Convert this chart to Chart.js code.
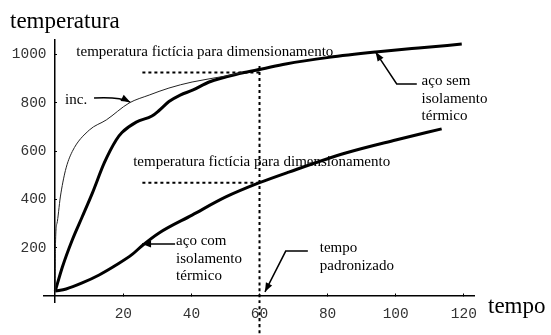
<!DOCTYPE html>
<html>
<head>
<meta charset="utf-8">
<script src="https://cdn.jsdelivr.net/npm/chart.js@4"></script>
<style>
  body { margin: 0; background: #fff; }
  canvas { display: block; }
</style>
</head>
<body>
<canvas id="chart" width="551" height="335"></canvas>
<script>
// tick labels
const xTicks = [20, 40, 60, 80, 100, 120];
const yTicks = [200, 400, 600, 800, 1000];

// incêndio-padrão (thin curve)
const incT = [0, 0.05, 0.5, 1.5, 3, 5, 10, 15, 21.7, 27.6, 33.4, 40.2, 50.1, 55];
const incV = [20, 200, 300, 410, 520, 598, 687, 729, 799, 832, 861, 886, 911, 925];

// aço sem isolamento térmico
const semT = [0, 2.1, 5, 7.9, 10.9, 14.4, 17.9, 19.6, 23.8, 28.4, 30.5, 33.4, 36.7, 40.5, 45.2, 54.8, 60.7, 67.7, 80.4, 94.1, 106.7, 119.4];
const semV = [20, 120, 232, 327, 426, 551, 646, 677, 720, 745, 768, 805, 832, 853, 886, 923, 940, 961, 988, 1010, 1027, 1043];

// aço com isolamento térmico
const comT = [0, 3.2, 7.9, 12.9, 17.9, 22.6, 25.5, 30.5, 40.2, 50.1, 59.8, 68.6, 85.3, 100, 113.5];
const comV = [20, 29, 54, 87, 128, 172, 208, 261, 335, 410, 468, 513, 592, 646, 692];

// dotted guide lines
const fictT = [25.6, 60];
const fictSemV = [925, 925];
const fictComV = [469, 469];
const padraoT = [60, 60];
const padraoV = [952, -165];

const pts = (xs, ys) => xs.map((x, i) => ({ x, y: ys[i] }));

const serif = '"Liberation Serif", "Times New Roman", serif';

// labels and arrows, anchored in data units
const notes = [
    { t: 6.2, v: 994, lines: ['temperatura fictícia para dimensionamento'] },
    { t: 22.9, v: 538, lines: ['temperatura fictícia para dimensionamento'] },
    { t: 2.9, v: 795, lines: ['inc.'] },
    { t: 107.6, v: 872, lines: ['aço sem', 'isolamento', 'térmico'] },
    { t: 35.5, v: 209, lines: ['aço com', 'isolamento', 'térmico'] },
    { t: 77.7, v: 182, lines: ['tempo', 'padronizado'] },
];
const arrows = [
    { curve: true, path: [[11.4, 820], [18.8, 826], [22, 803]] },
    { path: [[106.2, 878], [100.3, 878], [94.1, 1010]] },
    { path: [[35.2, 215], [25.5, 215]] },
    { path: [[74.2, 186], [67.7, 186], [61.6, 17]] },
];

function arrowHead(ctx, x0, y0, x1, y1) {
    const a = Math.atan2(y1 - y0, x1 - x0);
    const len = 9, w = 3.5;
    ctx.beginPath();
    ctx.moveTo(x1, y1);
    ctx.lineTo(x1 - len * Math.cos(a) + w * Math.sin(a), y1 - len * Math.sin(a) - w * Math.cos(a));
    ctx.lineTo(x1 - len * Math.cos(a) - w * Math.sin(a), y1 - len * Math.sin(a) + w * Math.cos(a));
    ctx.closePath();
    ctx.fill();
}

const annotPlugin = {
    id: 'annot',
    beforeDatasetsDraw(chart) {
        const { ctx, scales: { x, y } } = chart;
        ctx.save();
        ctx.fillStyle = '#000';
        ctx.font = '15px ' + serif;
        ctx.textBaseline = 'alphabetic';
        notes.forEach(n => {
            n.lines.forEach((s, i) => {
                ctx.fillText(s, x.getPixelForValue(n.t), y.getPixelForValue(n.v) + i * 17.5);
            });
        });
        ctx.restore();
    },
    afterDatasetsDraw(chart) {
        const { ctx, scales: { x, y } } = chart;
        ctx.save();
        ctx.strokeStyle = '#000';
        ctx.fillStyle = '#000';
        ctx.lineWidth = 1.5;
        arrows.forEach(a => {
            const p = a.path.map(([t, v]) => [x.getPixelForValue(t), y.getPixelForValue(v)]);
            ctx.beginPath();
            ctx.moveTo(p[0][0], p[0][1]);
            if (a.curve) ctx.quadraticCurveTo(p[1][0], p[1][1], p[2][0], p[2][1]);
            else p.slice(1).forEach(q => ctx.lineTo(q[0], q[1]));
            ctx.stroke();
            const n = p.length;
            arrowHead(ctx, p[n - 2][0], p[n - 2][1], p[n - 1][0], p[n - 1][1]);
        });

        // axis titles
        ctx.font = '23px ' + serif;
        ctx.fillText('temperatura', 10, 28);
        ctx.fillText('tempo', 488, 313);
        ctx.restore();
    }
};

const tickFont = { family: '"Liberation Mono", "DejaVu Sans Mono", monospace', size: 14.5 };

new Chart(document.getElementById('chart'), {
    type: 'line',
    data: {
        datasets: [
            { data: pts(incT, incV), borderColor: '#222', borderWidth: 1 },
            { data: pts(semT, semV), borderColor: '#000', borderWidth: 3 },
            { data: pts(comT, comV), borderColor: '#000', borderWidth: 3 },
            { data: pts(fictT, fictSemV), borderColor: '#000', borderWidth: 2, borderDash: [3, 3], tension: 0 },
            { data: pts(fictT, fictComV), borderColor: '#000', borderWidth: 2, borderDash: [3, 3], tension: 0 },
            { data: pts(padraoT, padraoV), borderColor: '#000', borderWidth: 2, borderDash: [3, 3], tension: 0, clip: false },
        ]
    },
    options: {
        responsive: false,
        animation: false,
        layout: { padding: { left: 44, right: 77, top: 40, bottom: 33 } },
        elements: {
            point: { radius: 0 },
            line: { cubicInterpolationMode: 'monotone', borderCapStyle: 'butt' }
        },
        plugins: { legend: { display: false }, tooltip: { enabled: false } },
        scales: {
            x: {
                type: 'linear',
                min: -3.3,
                max: 123,
                position: { y: 0 },
                afterBuildTicks: axis => { axis.ticks = xTicks.map(v => ({ value: v })); },
                grid: { drawOnChartArea: false, tickLength: -3, color: '#000' },
                border: { color: '#000', width: 1.5 },
                ticks: { font: tickFont, color: '#333', padding: 12, maxRotation: 0, callback: v => String(v) }
            },
            y: {
                type: 'linear',
                min: -25,
                max: 1060,
                position: { x: 0 },
                afterBuildTicks: axis => { axis.ticks = yTicks.map(v => ({ value: v })); },
                grid: { drawOnChartArea: false, tickLength: -3, color: '#000' },
                border: { color: '#000', width: 1.5 },
                // labels sit right against a centred axis, so a trailing space makes the gap
                ticks: { font: tickFont, color: '#333', callback: v => v + ' ' }
            }
        }
    },
    plugins: [annotPlugin]
});
</script>
</body>
</html>
